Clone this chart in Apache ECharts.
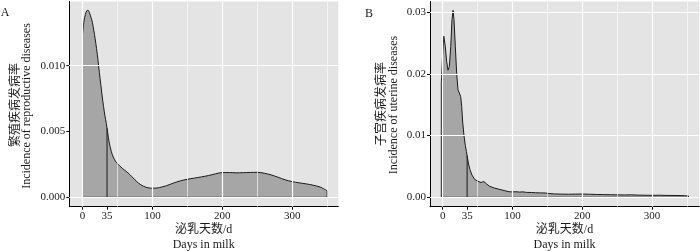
<!DOCTYPE html>
<html>
<head>
<meta charset="utf-8">
<script src="https://cdn.jsdelivr.net/npm/echarts@6/dist/echarts.min.js"></script>
<style>
    html, body { margin: 0; padding: 0; background: #fff; }
    #main { width: 700px; height: 251px; }
</style>
</head>
<body>
<div id="main"></div>
<script>
// A: 繁殖疾病发病率 (泌乳天数 -> 密度)
var daysA = [0, 2, 4, 6, 8, 10, 12, 14, 16, 18, 20, 22, 24, 26, 28, 30, 32, 34, 36, 38,
    41, 44, 47, 51, 55, 60, 65, 70, 75, 80, 85, 90, 95, 100, 105, 110, 120, 130, 140, 150,
    160, 170, 180, 190, 200, 210, 220, 230, 240, 250, 260, 270, 280, 290, 300, 310, 320, 330, 340, 350];
var rateA = [0.0124, 0.0134, 0.0139, 0.01418, 0.01421, 0.0140, 0.01368, 0.0133, 0.0127, 0.01205,
    0.0113, 0.01045, 0.0095, 0.0086, 0.0077, 0.0069, 0.0062, 0.0056, 0.0049, 0.0042,
    0.0035, 0.00305, 0.00275, 0.0025, 0.00229, 0.00207, 0.00186, 0.0016, 0.00133, 0.00108,
    0.0009, 0.00078, 0.00071, 0.00069, 0.0007, 0.00074, 0.00088, 0.00108, 0.00125, 0.00137,
    0.00146, 0.00155, 0.00165, 0.00178, 0.00188, 0.00188, 0.00186, 0.00187, 0.00189, 0.0019,
    0.00183, 0.0017, 0.00152, 0.00133, 0.00119, 0.0011, 0.00102, 0.00092, 0.00078, 0.0005];

// B: 子宫疾病发病率
var daysB = [-2, 0, 1.6, 3.8, 5.7, 7.6, 9.5, 11.5, 13.3, 14.8, 16.2, 18.1, 20, 21.9, 23.8,
    25.8, 27.2, 28.6, 30.5, 32.4, 34, 35.5, 37, 39, 42, 45.8, 50.6, 55, 59, 62.5, 67, 74,
    81, 88, 95, 100, 105, 110, 115, 120, 127, 133, 140, 147, 152, 160, 170, 180, 190, 200,
    210, 220, 230, 240, 250, 260, 270, 280, 290, 300, 310, 320, 330, 340, 346, 352];
var rateB = [0.0185, 0.0235, 0.0261, 0.0244, 0.022, 0.0206, 0.0212, 0.0244, 0.0288, 0.0303,
    0.0288, 0.0244, 0.0201, 0.0174, 0.0169, 0.0163, 0.0147, 0.0122, 0.01, 0.0084, 0.0074,
    0.0064, 0.0054, 0.0045, 0.0036, 0.0029, 0.0026, 0.0024, 0.00255, 0.0022, 0.0018, 0.0015,
    0.0013, 0.0011, 0.0009, 0.00088, 0.0009, 0.00085, 0.00088, 0.0008, 0.00078, 0.00074,
    0.00072, 0.0007, 0.00062, 0.00055, 0.00052, 0.0005, 0.00052, 0.00054, 0.0005, 0.00046,
    0.00044, 0.00042, 0.0004, 0.00038, 0.0004, 0.00036, 0.00034, 0.00032, 0.00034, 0.00031,
    0.0003, 0.00028, 0.00026, 0.00022];

// 刻度
var xTicks = [0, 35, 100, 200, 300];
var xMajor = [0, 100, 200, 300];
var xMinor = [50, 150, 250, 350];
var yTicksA = [0, 0.005, 0.010];
var yMinorA = [0.0025, 0.0075, 0.0125];
var yTicksB = [0, 0.01, 0.02, 0.03];
var yMinorB = [0.005, 0.015, 0.025];
var cutDay = 35;

var font = '"Liberation Serif", "Noto Sans CJK SC", serif';
var fontCn = '"Noto Sans CJK SC", "Liberation Serif", serif';

function pairs(xs, ys) {
    return xs.map(function (x, i) { return [x, ys[i]]; });
}

// 线性插值，求35天处的高度
function valueAt(xs, ys, x) {
    for (var i = 1; i < xs.length; i++) {
        if (xs[i] >= x) {
            var t = (x - xs[i - 1]) / (xs[i] - xs[i - 1]);
            return ys[i - 1] + t * (ys[i] - ys[i - 1]);
        }
    }
    return ys[ys.length - 1];
}

// 白色网格线（主+次）
function gridLineSeries(idx, xs, ys, width) {
    var data = xs.map(function (v) { return { xAxis: v }; })
        .concat(ys.map(function (v) { return { yAxis: v }; }));
    return {
        type: 'line', xAxisIndex: idx, yAxisIndex: idx, data: [], z: 1, silent: true,
        markLine: {
            silent: true, symbol: 'none', label: { show: false },
            lineStyle: { color: '#ffffff', type: 'solid', width: width },
            emphasis: { disabled: true },
            data: data
        }
    };
}

function axisX(idx, min, max) {
    return {
        type: 'value', gridIndex: idx, min: min, max: max,
        axisLine: { show: true, onZero: false, lineStyle: { color: '#000', width: 1 } },
        axisTick: { show: true, length: 3, customValues: xTicks, lineStyle: { color: '#000' } },
        axisLabel: { customValues: xTicks, fontSize: 11, color: '#1a1a1a', fontFamily: font, margin: 4 },
        splitLine: { show: false }
    };
}

function axisY(idx, min, max, ticks, digits) {
    return {
        type: 'value', gridIndex: idx, min: min, max: max,
        axisLine: { show: true, onZero: false, lineStyle: { color: '#000', width: 1 } },
        axisTick: { show: true, length: 3, customValues: ticks, lineStyle: { color: '#000' } },
        axisLabel: {
            customValues: ticks, fontSize: 11, color: '#1a1a1a', fontFamily: font, margin: 4,
            formatter: function (v) { return v.toFixed(digits); }
        },
        splitLine: { show: false }
    };
}

function areaSeries(idx, xs, ys, smooth) {
    var n = xs.length;
    return [
        {
            type: 'line', xAxisIndex: idx, yAxisIndex: idx, z: 2,
            data: pairs(xs, ys), smooth: smooth, symbol: 'none',
            lineStyle: { color: '#1a1a1a', width: 1 },
            areaStyle: { color: '#a6a6a6', opacity: 1 }
        },
        {
            // 区域左右边与底边
            type: 'line', xAxisIndex: idx, yAxisIndex: idx, z: 3, symbol: 'none',
            data: [[xs[0], ys[0]], [xs[0], 0], [xs[n - 1], 0], [xs[n - 1], ys[n - 1]]],
            lineStyle: { color: '#1a1a1a', width: 1 }
        },
        {
            // 35天竖线
            type: 'line', xAxisIndex: idx, yAxisIndex: idx, z: 3, symbol: 'none',
            data: [[cutDay, 0], [cutDay, valueAt(xs, ys, cutDay)]],
            lineStyle: { color: '#1a1a1a', width: 1 }
        }
    ];
}

function text(x, y, str, size, rot, f) {
    return {
        type: 'text', x: x, y: y, rotation: rot || 0, silent: true,
        style: {
            text: str, align: 'center', verticalAlign: 'middle',
            font: size + 'px ' + (f || font), fill: '#1a1a1a'
        }
    };
}

function 密度图() {
    var chart = echarts.init(document.getElementById('main'), null, { renderer: 'canvas' });
    var option = {
        animation: false,
        grid: [
            { left: 69.3, top: 1.5, width: 269, height: 205.2, show: true, backgroundColor: '#e4e4e4', borderWidth: 0, containLabel: false },
            { left: 430, top: 1.5, width: 269.3, height: 205.2, show: true, backgroundColor: '#e4e4e4', borderWidth: 0, containLabel: false }
        ],
        xAxis: [axisX(0, -19, 366), axisX(1, -18.2, 367.6)],
        yAxis: [
            axisY(0, -0.000714, 0.01488, yTicksA, 3),
            axisY(1, -0.00152, 0.03173, yTicksB, 2)
        ],
        series: [
            gridLineSeries(0, xMajor, yTicksA, 1.2),
            gridLineSeries(0, xMinor, yMinorA, 0.6),
            gridLineSeries(1, xMajor, yTicksB, 1.2),
            gridLineSeries(1, xMinor, yMinorB, 0.6)
        ].concat(areaSeries(0, daysA, rateA, 0.3))
         .concat(areaSeries(1, daysB, rateB, false)),
        graphic: [
            text(5, 13, 'A', 12),
            text(369, 14, 'B', 12),
            text(14, 105, '繁殖疾病发病率', 12, Math.PI / 2, fontCn),
            text(27, 106, 'Incidence of reproductive diseases', 12, Math.PI / 2),
            text(380, 104, '子宫疾病发病率', 12, Math.PI / 2, fontCn),
            text(394, 105, 'Incidence of uterine diseases', 12, Math.PI / 2),
            text(203.7, 230, '泌乳天数/d', 12, 0),
            text(203.7, 245, 'Days in milk', 12, 0),
            text(564.5, 230, '泌乳天数/d', 12, 0),
            text(564.5, 245, 'Days in milk', 12, 0)
        ]
    };
    chart.setOption(option);
}

密度图();
</script>
</body>
</html>
